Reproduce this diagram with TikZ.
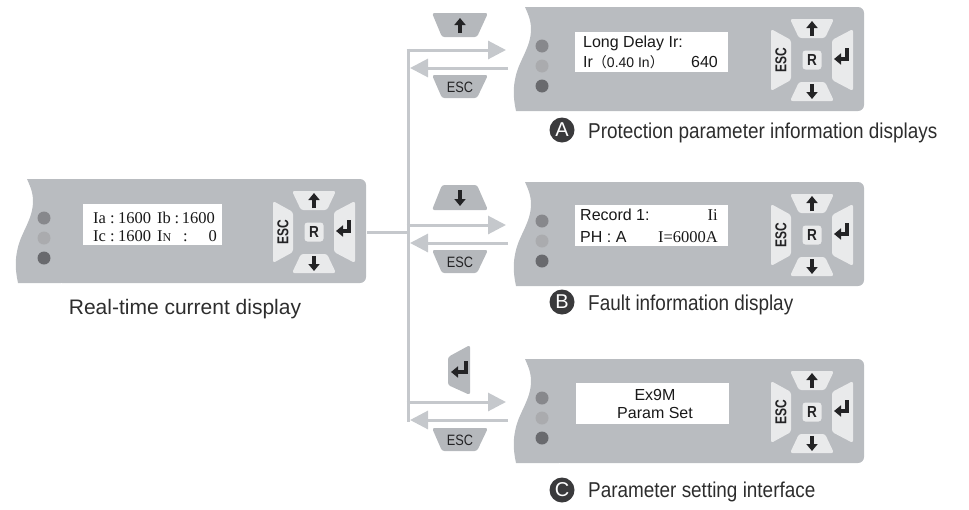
\documentclass[tikz,border=0pt]{standalone}
\usepackage{fontspec}
\usepackage{graphicx}
\setmainfont{Liberation Sans}
\newfontfamily\serifx{Liberation Serif}
\newfontfamily\cjk{Noto Sans CJK SC}
\usetikzlibrary{arrows.meta}
\definecolor{panelc}{RGB}{185,188,192}
\definecolor{keyc}{RGB}{233,234,235}
\definecolor{btnc}{RGB}{181,184,188}
\definecolor{connc}{RGB}{197,200,204}
\definecolor{symc}{RGB}{35,35,37}
\definecolor{txtc}{RGB}{25,25,25}
\definecolor{labc}{RGB}{45,45,45}
\definecolor{badgec}{RGB}{58,58,60}
\definecolor{ledA}{RGB}{135,136,140}
\definecolor{ledB}{RGB}{170,171,174}
\definecolor{ledC}{RGB}{105,106,110}
\tikzset{
  keybtn/.style={fill=keyc, rounded corners=2.5pt},
  symarrow/.style={draw=symc, line width=3.2pt, -{Triangle[length=7pt,width=11pt]}},
  conn/.style={draw=connc, line width=3pt},
  connarrow/.style={conn, -{Triangle[length=18pt,width=18pt]}},
  tbtn/.style={fill=btnc, rounded corners=2.5pt},
  screen/.style={fill=white, inner sep=0pt, anchor=north west},
  scrsans/.style={inner sep=0pt, text=txtc, font=\fontsize{16}{16}\selectfont},
  scrserif/.style={inner sep=0pt, text=txtc, anchor=base west, font=\serifx\fontsize{16.5}{16.5}\selectfont},
  badge/.style={circle, fill=badgec, minimum size=25pt, inner sep=0pt, text=white, font=\fontsize{20}{20}\selectfont},
  caption/.style={inner sep=0pt, text=labc, anchor=base west, font=\fontsize{21.5}{21.5}\selectfont},
  esctxt/.style={inner sep=0pt, text=symc, font=\fontsize{15}{15}\selectfont},
  devpanel/.pic={
    \fill[panelc, rounded corners=6pt] (40,0) rectangle (350,104);
    \fill[panelc] (11,0) -- (45,0) -- (45,104) -- (2,104) .. controls (-1,90) and (-1,80) .. (2,68) .. controls (6,52) and (17,40) .. (17,22) .. controls (17,12) and (13,5) .. (11,0) -- cycle;
    \fill[ledA] (28,39) circle[radius=6.5];
    \fill[ledB] (28,59) circle[radius=6.5];
    \fill[ledC] (28,79) circle[radius=6.5];
    \begin{scope}[shift={(298,53)}]
      \fill[keybtn] (-22,-41) -- (22,-41) -- (13,-22) -- (-13,-22) -- cycle;
      \fill[keybtn] (-13,22) -- (13,22) -- (22,41) -- (-22,41) -- cycle;
      \fill[keybtn] (-41,-31) -- (-21,-20) -- (-21,20) -- (-41,31) -- cycle;
      \fill[keybtn] (41,-31) -- (20,-20) -- (20,20) -- (41,31) -- cycle;
      \node[fill=keyc, rounded corners=3pt, minimum size=19pt, inner sep=0pt, text=symc, font=\bfseries\fontsize{16}{16}\selectfont] (-R) at (0,0) {\scalebox{0.85}[1]{R}};
      \draw[symarrow] (0,-24) -- (0,-39);
      \draw[symarrow] (0,24) -- (0,39);
      \node[rotate=90, inner sep=0pt, text=symc, font=\bfseries\fontsize{15}{15}\selectfont] (-esc) at (-31,0) {\scalebox{0.8}[1.05]{ESC}};
      \draw[symarrow] (35,-12) -- (35,-1) -- (22,-1);
    \end{scope}
    \coordinate (-out) at (351,53);
    \coordinate (-fwd) at (-8,43);
    \coordinate (-ret) at (-6,61);
  }
}
\begin{document}
\begin{tikzpicture}[x=1pt,y=-1pt]
\useasboundingbox (0,0) rectangle (969,509);
% panels
\pic (L) at (16,179) {devpanel};
\pic (A) at (514,7) {devpanel};
\pic (B) at (514,182) {devpanel};
\pic (C) at (514,359) {devpanel};
% screens
\node[screen, minimum width=139pt, minimum height=41pt] (Lscr) at (83,204) {};
\node[screen, minimum width=153pt, minimum height=40pt] (Ascr) at (575,32) {};
\node[screen, minimum width=153pt, minimum height=41pt] (Bscr) at (575,205) {};
\node[screen, minimum width=153pt, minimum height=41pt] (Cscr) at (576,383) {};
% screen texts (left)
\node[scrserif] (t1) at (93,223) {Ia};
\node[scrserif] (t2) at (110,223) {:};
\node[scrserif] (t3) at (118,223) {1600};
\node[scrserif] (t4) at (157,223) {Ib};
\node[scrserif] (t5) at (174.5,223) {:};
\node[scrserif, anchor=base east] (t6) at (215,223) {1600};
\node[scrserif] (t7) at (93,241) {Ic};
\node[scrserif] (t8) at (110,241) {:};
\node[scrserif] (t9) at (118,241) {1600};
\node[scrserif] (t10) at (157,241) {I{\fontsize{12}{12}\selectfont N}};
\node[scrserif] (t11) at (183,241) {:};
\node[scrserif, anchor=base east] (t12) at (217,241) {0};
% screen texts (right)
\node[scrsans, anchor=base west] (a1) at (583,47) {Long Delay Ir:};
\node[scrsans, anchor=base west] (a2) at (583,67) {Ir{\cjk\fontsize{14}{14}\selectfont （}{\fontsize{14}{14}\selectfont 0.40 In}{\cjk\fontsize{14}{14}\selectfont ）}};
\node[scrsans, anchor=base east] (a3) at (718,67) {640};
\node[scrsans, anchor=base west] (b1) at (580,220) {Record 1:};
\node[scrserif, anchor=base east] (b2) at (718,220) {Ii};
\node[scrsans, anchor=base west] (b3) at (580,242) {PH : A};
\node[scrserif, anchor=base east] (b4) at (718,242) {I=6000A};
\node[scrsans, anchor=base] (c1) at (655,400) {Ex9M};
\node[scrsans, anchor=base] (c2) at (655,418) {Param Set};
% connectors
\coordinate (jL) at (408,232);
\coordinate (vTop) at (408,48.5);
\coordinate (vBot) at (408,421.5);
\draw[conn] (L-out) -- (jL);
\draw[conn] (vTop) -- (vBot);
\foreach \p in {A,B,C}{
  \draw[connarrow] ([xshift=-1.5pt]\p-fwd -| jL) -- (\p-fwd);
  \draw[connarrow] (\p-ret) -- ([xshift=2pt]\p-ret -| jL);
}
% side buttons
\fill[tbtn] (432,13) -- (488,13) -- (477,37) -- (442,37) -- cycle;
\draw[symarrow] (460,33) -- (460,18);
\fill[tbtn] (432,75) -- (488,75) -- (477,98) -- (442,98) -- cycle;
\node[esctxt] (escA) at (460,87) {\scalebox{0.85}[1]{ESC}};
\fill[tbtn] (442,185) -- (477,185) -- (488,210) -- (432,210) -- cycle;
\draw[symarrow] (460,190) -- (460,206);
\fill[tbtn] (432,250) -- (488,250) -- (477,273) -- (442,273) -- cycle;
\node[esctxt] (escB) at (460,262) {\scalebox{0.85}[1]{ESC}};
\fill[tbtn] (448,357) -- (470,345) -- (470,395) -- (448,385) -- cycle;
\draw[symarrow] (466,361) -- (466,372) -- (451,372);
\fill[tbtn] (432,428) -- (488,428) -- (477,451) -- (442,451) -- cycle;
\node[esctxt] (escC) at (460,440) {\scalebox{0.85}[1]{ESC}};
% captions
\node[inner sep=0pt, text=labc, anchor=base, font=\fontsize{21}{21}\selectfont] (capL) at (185,314) {Real-time current display};
\node[badge] (bA) at (562,130) {A};
\node[caption] (capA) at (588,138) {\scalebox{0.88}[1]{Protection parameter information displays}};
\node[badge] (bB) at (562,302) {B};
\node[caption] (capB) at (588,310) {\scalebox{0.88}[1]{Fault information display}};
\node[badge] (bC) at (562,490) {C};
\node[caption] (capC) at (588,497) {\scalebox{0.88}[1]{Parameter setting interface}};
\end{tikzpicture}
\end{document}
